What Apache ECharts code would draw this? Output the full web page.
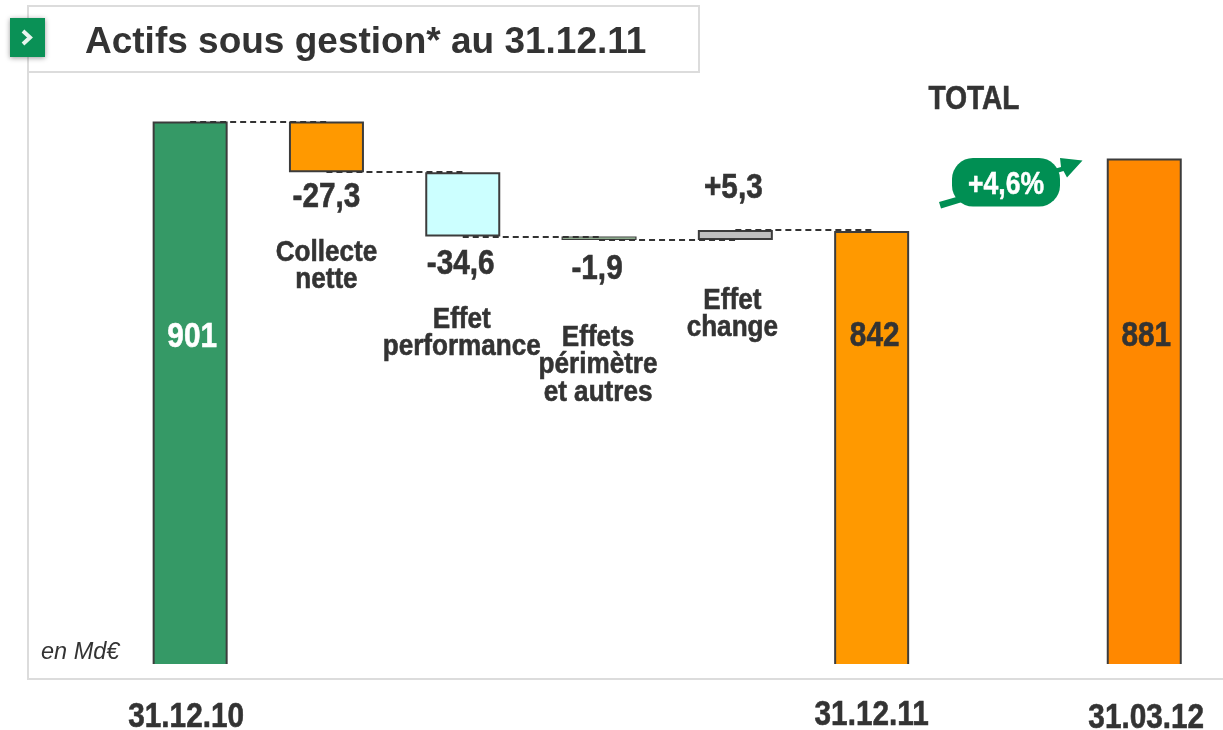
<!DOCTYPE html>
<html><head><meta charset="utf-8">
<style>html,body{margin:0;padding:0;background:#fff}#c{width:1223px;height:730px}</style>
<script src="https://cdn.jsdelivr.net/npm/echarts@6/dist/echarts.min.js"></script></head>
<body><div id="c"></div>
<script>
const categories = ["31.12.10","Collecte nette","Effet performance","Effets périmètre et autres","Effet change","31.12.11","","31.03.12"];
const totals = [901,null,null,null,null,842,null,881];
const changes = [null,-27.3,-34.6,-1.9,5.3,null,null,null];
const tickLabels = ["31.12.10","","","","","31.12.11","","31.03.12"];
const captions = ["","Collecte\nnette","Effet\nperformance","Effets\npérimètre\net autres","Effet\nchange","","",""];
const growthLabel = "+4,6%";

const SANS = '"Liberation Sans",Arial,sans-serif';
const INK = '#333333', EDGE = '#3c3c3c';
const AXIS_MIN = 607.9;
const fills = ['#359966','#FF9900','#CCFFFF','#A9D0A9','#C0C0C0','#FF9900',null,'#FF8800'];
const borderWidths = [2,2,2,1.2,2,2,0,2];
const totalPos = {0:[2,215.5],5:[3,105.5],7:[2,178]};
const totalColor = {0:'#fff',5:INK,7:INK};
const valuePos = {1:[0,25.6],2:[-2,28],3:[-2,29],4:[-2,-42]};
const captionPos = {1:[0,94],2:[-1,97],3:[-1,125],4:[-3,84]};
const tickPos = {0:[-4,51.5],5:[0,49.5],7:[2,52.5]};

// Waterfall levels from the readings above
let level = totals[0];
const base = [], seg = [], links = [], texts = [];
const fmt = v => (v>0?'+':'')+String(v).replace('.',',');
categories.forEach((c,i)=>{
  if (totals[i]!=null){
    base.push('-'); seg.push(totals[i]);
    level = totals[i];
    if(i<5) links.push([i,level]);
    texts.push({i,v:totals[i],text:String(totals[i]),pos:totalPos[i],color:totalColor[i]});
  } else if (changes[i]!=null){
    const next = level+changes[i];
    base.push(Math.min(level,next)); seg.push(Math.abs(changes[i]));
    level = next;
    links.push([i,level]);
    texts.push({i,v:level,text:fmt(changes[i]),pos:valuePos[i]});
    texts.push({i,v:level,text:captions[i],pos:captionPos[i],size:30,sx:.87,lh:27.5});
  } else { base.push('-'); seg.push('-'); }
  if (tickLabels[i]) texts.push({i,v:AXIS_MIN,text:tickLabels[i],pos:tickPos[i]});
});

const chart = echarts.init(document.getElementById('c'),null,{renderer:'canvas'});
chart.setOption({
  animation:false,
  backgroundColor:'#fff',
  grid:{left:122,top:121.5,width:1090.4,height:544,outerBoundsMode:'none',containLabel:false},
  xAxis:{type:'category',data:categories,z:6,
    axisLine:{onZero:false,lineStyle:{color:'#fff',width:4}},axisTick:{show:false},axisLabel:{show:false}},
  yAxis:{type:'value',min:AXIS_MIN,max:901,show:false,splitLine:{show:false}},
  series:[
    {type:'bar',stack:'w',barWidth:75,silent:true,itemStyle:{color:'rgba(0,0,0,0)'},data:base},
    {type:'bar',stack:'w',barWidth:75,silent:true,
     data:seg.map((v,i)=>({value:v,itemStyle:{color:fills[i]||'transparent',borderColor:EDGE,borderWidth:borderWidths[i]}})),
     markLine:{silent:true,symbol:'none',label:{show:false},animation:false,z:5,
       lineStyle:{color:INK,type:[6,4],width:2},
       data:links.map(l=>[{xAxis:l[0],yAxis:l[1]},{xAxis:l[0]+1,yAxis:l[1]}])}},
    {type:'custom',silent:true,z:8,clip:false,coordinateSystem:'cartesian2d',
     data:texts.map(t=>[t.i,t.v]),
     renderItem:(params,api)=>{
       const t = texts[params.dataIndex];
       const p = api.coord([api.value(0),api.value(1)]);
       return {type:'text',x:p[0]+t.pos[0],y:p[1]+t.pos[1],scaleX:t.sx||.85,
         style:{text:t.text,fill:t.color||INK,stroke:t.color||INK,lineWidth:.6,font:'bold '+(t.size||35)+'px '+SANS,
           align:'center',verticalAlign:'middle',lineHeight:t.lh||35}};
     }}
  ],
  graphic:[
    {type:'polyline',z:1,shape:{points:[[28,72],[28,679],[1223,679]]},style:{stroke:'#dcdcdc',lineWidth:2,fill:null}},
    {type:'rect',z:2,shape:{x:28,y:6,width:671,height:66},style:{fill:'#fff',stroke:'#dcdcdc',lineWidth:2}},
    {type:'rect',z:3,shape:{x:10,y:18,width:35,height:39},style:{fill:'#0A9156',shadowBlur:5,shadowColor:'rgba(0,0,0,0.4)',shadowOffsetY:1}},
    {type:'polyline',z:4,shape:{points:[[23,31],[30,37.5],[23,44]]},style:{stroke:'#E8F5EE',lineWidth:4,fill:null}},
    {type:'text',z:4,x:85,y:43,style:{text:'Actifs sous gestion* au 31.12.11',fill:INK,font:'bold 37px '+SANS,textVerticalAlign:'middle'}},
    {type:'text',z:4,x:974,y:100,scaleX:.85,style:{text:'TOTAL',fill:INK,stroke:INK,lineWidth:.6,font:'bold 33px '+SANS,textAlign:'center',textVerticalAlign:'middle'}},
    {type:'text',z:7,x:41,y:652,style:{text:'en Md€',fill:INK,font:'italic 23.5px '+SANS,textVerticalAlign:'middle'}},
    {type:'polygon',z:8,shape:{points:[[939,202],[1061,167],[1060,158],[1082.5,160.5],[1067,177.5],[1063.5,171],[941,208.5]]},style:{fill:'#008F53'}},
    {type:'rect',z:9,shape:{x:952,y:158,width:108,height:48.5,r:21},style:{fill:'#008F53'}},
    {type:'text',z:10,x:1006,y:185,scaleX:.83,style:{text:growthLabel,fill:'#fff',stroke:'#fff',lineWidth:.5,font:'bold 32px '+SANS,textAlign:'center',textVerticalAlign:'middle'}}
  ]
});
</script></body></html>
